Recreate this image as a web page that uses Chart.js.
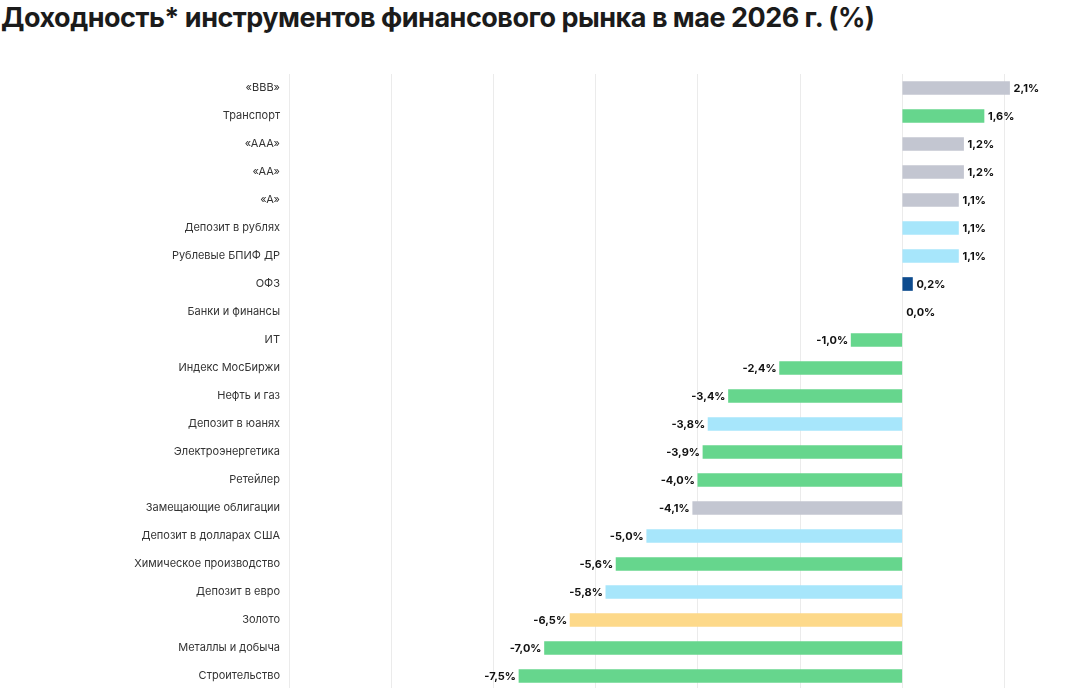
<!DOCTYPE html>
<html lang="ru">
<head>
<meta charset="utf-8">
<title>Доходность инструментов финансового рынка</title>
<script src="https://cdn.jsdelivr.net/npm/chart.js@4"></script>
<style>
  html, body { margin: 0; padding: 0; background: #fff; overflow: hidden; }
  #title {
    position: absolute; left: 1px; top: 0;
    font-family: Inter, "Noto Sans", sans-serif;
    font-weight: 700; font-size: 27px; line-height: 36px;
    letter-spacing: -0.5px;
    color: #1b1b1b; white-space: nowrap;
  }
  #chartBox { position: absolute; left: 0; top: 60px; width: 1076px; height: 640px; }
</style>
</head>
<body>
<div id="title">Доходность* инструментов финансового рынка в мае 2026 г. (%)</div>
<div id="chartBox"><canvas id="chart"></canvas></div>
<script>
const categories = [
    '«BBB»', 'Транспорт', '«AAA»', '«AA»', '«A»', 'Депозит в рублях',
    'Рублевые БПИФ ДР', 'ОФЗ', 'Банки и финансы', 'ИТ', 'Индекс МосБиржи',
    'Нефть и газ', 'Депозит в юанях', 'Электроэнергетика', 'Ретейлер',
    'Замещающие облигации', 'Депозит в долларах США', 'Химическое производство',
    'Депозит в евро', 'Золото', 'Металлы и добыча', 'Строительство'
];
const returns = [
    2.1, 1.6, 1.2, 1.2, 1.1, 1.1,
    1.1, 0.2, 0.0, -1.0, -2.4,
    -3.4, -3.8, -3.9, -4.0,
    -4.1, -5.0, -5.6,
    -5.8, -6.5, -7.0, -7.5
];
const groups = [
    'bond', 'stock', 'bond', 'bond', 'bond', 'deposit',
    'deposit', 'ofz', 'stock', 'stock', 'stock',
    'stock', 'deposit', 'stock', 'stock',
    'bond', 'deposit', 'stock',
    'deposit', 'gold', 'stock', 'stock'
];

const groupColors = {
    bond: '#c3c6d1',
    stock: '#66d68d',
    deposit: '#a7e6fb',
    ofz: '#0d4b8e',
    gold: '#fdd98a'
};

function fmt(v) {
    return v.toFixed(1).replace('.', ',') + '%';
}

// value labels at the end of each bar
const barLabels = {
    id: 'barLabels',
    afterDatasetsDraw(chart) {
        const ctx = chart.ctx;
        const meta = chart.getDatasetMeta(0);
        ctx.save();
        ctx.font = '700 11px Inter, "Noto Sans", sans-serif';
        ctx.fillStyle = '#111';
        ctx.textBaseline = 'middle';
        meta.data.forEach((bar, i) => {
            const v = returns[i];
            if (v < 0) {
                ctx.textAlign = 'right';
                ctx.fillText(fmt(v), bar.x - 3, bar.y + 1);
            } else {
                ctx.textAlign = 'left';
                ctx.fillText(fmt(v), bar.x + 4, bar.y + 1);
            }
        });
        ctx.restore();
    }
};

const ctx = document.getElementById('chart').getContext('2d');
new Chart(ctx, {
    type: 'bar',
    data: {
        labels: categories,
        datasets: [{
            data: returns,
            // a zero bar has no visible body
            backgroundColor: groups.map((g, i) => returns[i] === 0 ? 'rgba(0,0,0,0)' : groupColors[g]),
            barThickness: 13,
            borderWidth: 0
        }]
    },
    options: {
        indexAxis: 'y',
        responsive: true,
        maintainAspectRatio: false,
        animation: false,
        layout: { padding: { top: 14, bottom: 10, left: 0, right: 0 } },
        plugins: {
            legend: { display: false },
            tooltip: { enabled: false }
        },
        scales: {
            x: {
                min: -12,
                max: 3.4,
                ticks: { display: false, stepSize: 2, includeBounds: false },
                grid: { color: '#ebebeb', drawTicks: false },
                border: { display: false }
            },
            y: {
                grid: { display: false },
                border: { display: false },
                ticks: {
                    padding: 1,
                    color: '#333',
                    font: { family: 'Inter, "Noto Sans", sans-serif', size: 11 }
                },
                afterFit(scale) { scale.width = 289; }
            }
        }
    },
    plugins: [barLabels]
});
</script>
</body>
</html>
